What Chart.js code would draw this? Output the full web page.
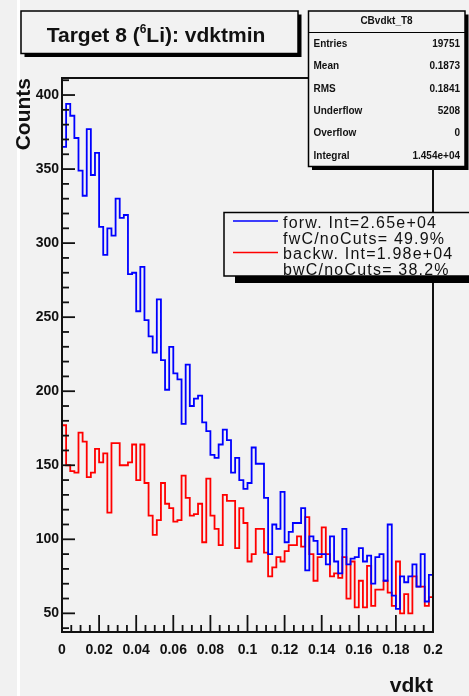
<!DOCTYPE html>
<html>
<head>
<meta charset="utf-8">
<script src="https://cdn.jsdelivr.net/npm/chart.js@4.4.1/dist/chart.umd.min.js"></script>
<style>
    html, body { margin: 0; padding: 0; background: #f2f2f2; }
    #wrap { width: 469px; height: 696px; }
</style>
</head>
<body>
<div id="wrap"><canvas id="vdktChart" width="469" height="696"></canvas></div>
<script>
const xMin = 0;
const xMax = 0.2;
const yMin = 37.4;
const yMax = 411.5;

const xTickValues = [0, 0.02, 0.04, 0.06, 0.08, 0.1, 0.12, 0.14, 0.16, 0.18, 0.2];
const xTickLabels = ['0', '0.02', '0.04', '0.06', '0.08', '0.1', '0.12', '0.14', '0.16', '0.18', '0.2'];
const yTickValues = [50, 100, 150, 200, 250, 300, 350, 400];

// bin contents (0 .. 0.2)
const forwCounts = [
    365, 394, 386, 371, 349, 332, 377, 346, 361, 311,
    292, 310, 305, 330, 317, 319, 279, 280, 254, 284,
    248, 237, 226, 262, 221, 201, 230, 212, 208, 178,
    218, 190, 195, 197, 179, 173, 157, 155, 164, 174,
    167, 145, 155, 140, 134, 138, 162, 151, 151, 128,
    90, 110, 107, 132, 98, 105, 111, 111, 121, 79,
    102, 99, 90, 90, 83, 102, 85, 77, 107, 83,
    87, 88, 94, 85, 89, 70, 88, 90, 72, 110,
    62, 53, 75, 71, 75, 83, 68, 90, 58, 76,
];
const backwCounts = [
    177, 150, 146, 145, 172, 166, 142, 145, 161, 152,
    158, 118, 165, 165, 150, 150, 152, 164, 140, 164,
    138, 116, 103, 113, 138, 124, 121, 112, 113, 143,
    128, 116, 117, 124, 98, 141, 116, 107, 96, 130,
    126, 126, 94, 121, 111, 85, 90, 107, 107, 91,
    75, 81, 88, 85, 92, 96, 96, 102, 95, 115,
    90, 72, 88, 108, 90, 75, 77, 74, 88, 60,
    85, 54, 72, 54, 82, 55, 66, 66, 72, 64,
    55, 85, 50, 63, 50, 75, 68, 68, 55, 61,
];

const seriesColors = ['#0000ff', '#ff0000'];
const seriesLabels = ['forw. Int=2.65e+04', 'backw. Int=1.98e+04'];
const seriesNotes = ['fwC/noCuts= 49.9%', 'bwC/noCuts= 38.2%'];

const statsTitle = 'CBvdkt_T8';
const statsLabels = ['Entries', 'Mean', 'RMS', 'Underflow', 'Overflow', 'Integral'];
const statsValues = ['19751', '0.1873', '0.1841', '5208', '0', '1.454e+04'];

const FONT = '"Liberation Sans", Arial, Helvetica, sans-serif';
const INK = '#111';

// histogram outline: one point per low bin edge plus the closing edge
const toSteps = (counts) => {
    const w = (xMax - xMin) / counts.length;
    const pts = counts.map((c, i) => ({ x: xMin + i * w, y: c }));
    pts.push({ x: xMax, y: counts[counts.length - 1] });
    return pts;
};

const line = (ctx, x1, y1, x2, y2) => {
    ctx.beginPath();
    ctx.moveTo(x1, y1);
    ctx.lineTo(x2, y2);
    ctx.stroke();
};

const shadowBox = (ctx, x0, y0, x1, y1, dx, dy) => {
    ctx.fillStyle = '#000';
    ctx.fillRect(x0 + dx, y0 + dy, x1 - x0, y1 - y0);
    ctx.fillStyle = '#f2f2f2';
    ctx.fillRect(x0, y0, x1 - x0, y1 - y0);
    ctx.strokeStyle = '#000';
    ctx.lineWidth = 1.5;
    ctx.strokeRect(x0, y0, x1 - x0, y1 - y0);
};

const rootStyle = {
    id: 'rootStyle',
    beforeDraw(chart) {
        const { ctx, width, height } = chart;
        ctx.save();
        ctx.fillStyle = '#f1f1f1';
        ctx.fillRect(0, 0, width, height);
        ctx.fillStyle = '#f2f2f2';
        ctx.fillRect(20, 0, width - 20, height);
        ctx.fillStyle = '#ffffff';
        ctx.fillRect(17, 0, 3, height);
        ctx.restore();
    },
    afterDraw(chart) {
        const { ctx, chartArea: a, scales: { x, y } } = chart;
        ctx.save();

        // frame
        ctx.strokeStyle = INK;
        ctx.lineWidth = 2;
        ctx.strokeRect(a.left, a.top, a.right - a.left, a.bottom - a.top);

        // ticks inside the frame
        ctx.lineWidth = 1.8;
        for (let v = 40; v <= yMax; v += 10) {
            const py = y.getPixelForValue(v);
            line(ctx, a.left, py, a.left + (v % 50 === 0 ? 13 : 7), py);
        }
        for (let k = 0; k <= 40; k++) {
            const px = x.getPixelForValue(xMin + k * 0.005);
            line(ctx, px, a.bottom, px, a.bottom - (k % 4 === 0 ? 17 : 7));
        }

        // title box
        shadowBox(ctx, 21, 11, 298, 53.5, 3.5, 3.5);
        ctx.fillStyle = INK;
        ctx.textBaseline = 'alphabetic';
        const big = `bold 21px ${FONT}`;
        const small = `bold 12px ${FONT}`;
        const parts = [['Target 8 (', big, 0], ['6', small, -9], ['Li): vdktmin', big, 0]];
        let total = 0;
        parts.forEach(([t, f]) => { ctx.font = f; total += ctx.measureText(t).width; });
        let tx = 156 - total / 2;
        parts.forEach(([t, f, dy]) => {
            ctx.font = f;
            ctx.fillText(t, tx, 42 + dy);
            tx += ctx.measureText(t).width;
        });

        // stats box
        shadowBox(ctx, 308.5, 11, 465, 166.5, 3.5, 3.5);
        ctx.lineWidth = 1.2;
        line(ctx, 308.5, 32.5, 465, 32.5);
        ctx.fillStyle = INK;
        ctx.font = `bold 10px ${FONT}`;
        ctx.textAlign = 'center';
        ctx.fillText(statsTitle, 386.5, 23.5);
        statsLabels.forEach((label, i) => {
            const by = 47 + i * 22.3;
            ctx.textAlign = 'left';
            ctx.fillText(label, 313.5, by);
            ctx.textAlign = 'right';
            ctx.fillText(statsValues[i], 460, by);
        });

        // legend box
        ctx.fillStyle = '#000';
        ctx.fillRect(235, 276, 234, 7);
        ctx.fillStyle = '#f2f2f2';
        ctx.fillRect(224, 212.5, 245, 63.5);
        ctx.strokeStyle = '#000';
        ctx.lineWidth = 1.5;
        ctx.strokeRect(224, 212.5, 260, 63.5);
        ctx.textAlign = 'left';
        ctx.font = `16px ${FONT}`;
        if ('letterSpacing' in ctx) ctx.letterSpacing = '1.2px';
        seriesLabels.forEach((label, i) => {
            const cy = 221 + i * 31.5;
            ctx.strokeStyle = seriesColors[i];
            ctx.lineWidth = 1.6;
            line(ctx, 233, cy, 278, cy);
            ctx.fillStyle = INK;
            ctx.fillText(label, 283, 228 + i * 31);
            ctx.fillText(seriesNotes[i], 283, 243.5 + i * 31);
        });

        ctx.restore();
    },
};

const tickFont = { family: FONT, size: 14, weight: 'bold' };
const titleFont = { family: FONT, size: 21, weight: 'bold', lineHeight: 1 };

new Chart(document.getElementById('vdktChart'), {
    type: 'line',
    data: {
        datasets: [forwCounts, backwCounts].map((counts, i) => ({
            label: seriesLabels[i],
            data: toSteps(counts),
            borderColor: seriesColors[i],
            backgroundColor: seriesColors[i],
            borderWidth: 1.8,
            stepped: true,
            fill: false,
            tension: 0,
            pointRadius: 0,
        })),
    },
    options: {
        responsive: false,
        animation: false,
        devicePixelRatio: 1,
        layout: { padding: { top: 78, right: 36, bottom: 0, left: 0 } },
        plugins: {
            legend: { display: false },
            tooltip: { enabled: false },
        },
        scales: {
            x: {
                type: 'linear',
                min: xMin,
                max: xMax,
                grid: { display: false, drawTicks: false },
                border: { display: false },
                afterBuildTicks: (s) => { s.ticks = xTickValues.map((v) => ({ value: v })); },
                afterFit: (s) => { s.height = 64; },
                ticks: {
                    autoSkip: false,
                    maxRotation: 0,
                    padding: 10,
                    color: INK,
                    font: tickFont,
                    callback: (v, i) => xTickLabels[i],
                },
                title: { display: true, text: 'vdkt', align: 'end', color: INK, font: titleFont, padding: { top: 0, bottom: -1 } },
            },
            y: {
                type: 'linear',
                min: yMin,
                max: yMax,
                grid: { display: false, drawTicks: false },
                border: { display: false },
                afterBuildTicks: (s) => { s.ticks = yTickValues.map((v) => ({ value: v })); },
                afterFit: (s) => { s.width = 62; },
                ticks: {
                    padding: 3,
                    color: INK,
                    font: tickFont,
                    callback: (v) => String(v),
                },
                title: { display: true, text: 'Counts', align: 'end', color: INK, font: titleFont, padding: { top: 14, bottom: 0 } },
            },
        },
    },
    plugins: [rootStyle],
});
</script>
</body>
</html>
